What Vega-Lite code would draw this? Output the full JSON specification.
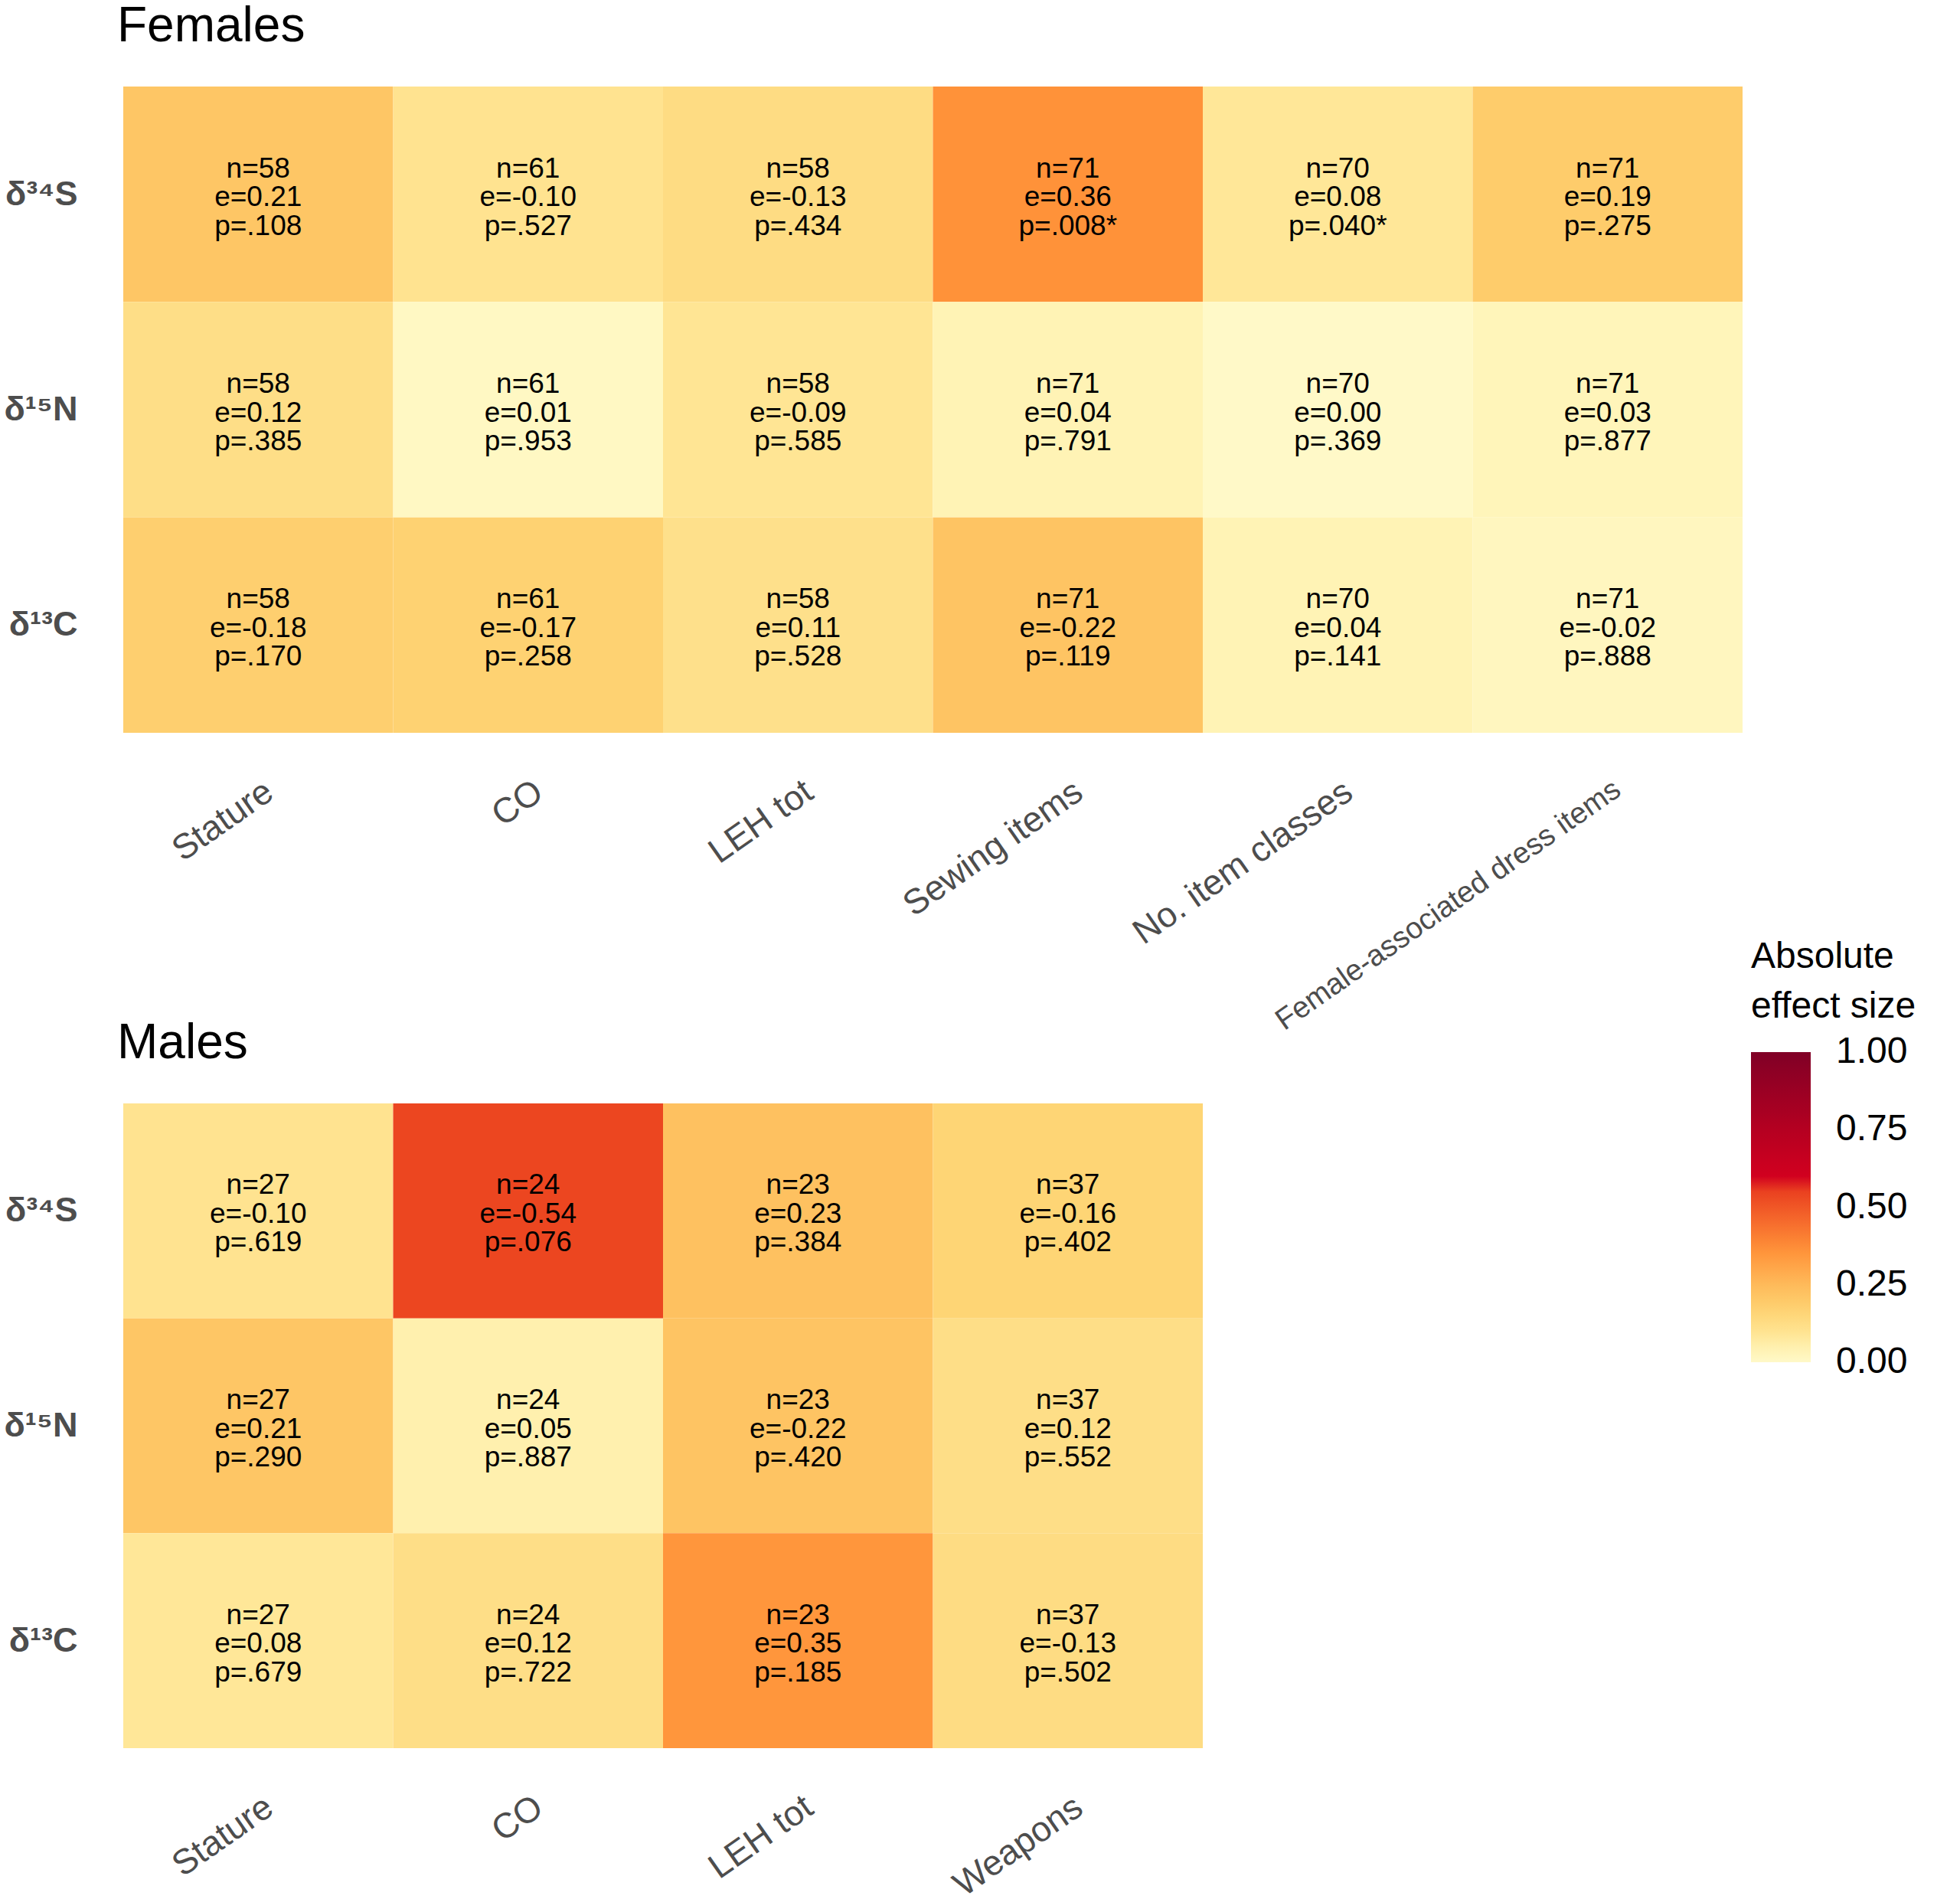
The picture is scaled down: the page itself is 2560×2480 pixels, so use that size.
{
  "$schema": "https://vega.github.io/schema/vega-lite/v6.json",
  "autosize": {"type": "pad"},
  "padding": {"left": 5, "top": 3, "right": 5, "bottom": 5},
  "bounds": "flush",
  "spacing": 484,
  "datasets": {
    "females": [
      {"var": "Stature", "iso": "δ³⁴S", "n": 58, "e": 0.21, "p": 0.108},
      {"var": "Stature", "iso": "δ¹⁵N", "n": 58, "e": 0.12, "p": 0.385},
      {"var": "Stature", "iso": "δ¹³C", "n": 58, "e": -0.18, "p": 0.170},
      {"var": "CO", "iso": "δ³⁴S", "n": 61, "e": -0.10, "p": 0.527},
      {"var": "CO", "iso": "δ¹⁵N", "n": 61, "e": 0.01, "p": 0.953},
      {"var": "CO", "iso": "δ¹³C", "n": 61, "e": -0.17, "p": 0.258},
      {"var": "LEH tot", "iso": "δ³⁴S", "n": 58, "e": -0.13, "p": 0.434},
      {"var": "LEH tot", "iso": "δ¹⁵N", "n": 58, "e": -0.09, "p": 0.585},
      {"var": "LEH tot", "iso": "δ¹³C", "n": 58, "e": 0.11, "p": 0.528},
      {"var": "Sewing items", "iso": "δ³⁴S", "n": 71, "e": 0.36, "p": 0.008},
      {"var": "Sewing items", "iso": "δ¹⁵N", "n": 71, "e": 0.04, "p": 0.791},
      {"var": "Sewing items", "iso": "δ¹³C", "n": 71, "e": -0.22, "p": 0.119},
      {"var": "No. item classes", "iso": "δ³⁴S", "n": 70, "e": 0.08, "p": 0.040},
      {"var": "No. item classes", "iso": "δ¹⁵N", "n": 70, "e": 0.00, "p": 0.369},
      {"var": "No. item classes", "iso": "δ¹³C", "n": 70, "e": 0.04, "p": 0.141},
      {"var": "Female-associated dress items", "iso": "δ³⁴S", "n": 71, "e": 0.19, "p": 0.275},
      {"var": "Female-associated dress items", "iso": "δ¹⁵N", "n": 71, "e": 0.03, "p": 0.877},
      {"var": "Female-associated dress items", "iso": "δ¹³C", "n": 71, "e": -0.02, "p": 0.888}
    ],
    "males": [
      {"var": "Stature", "iso": "δ³⁴S", "n": 27, "e": -0.10, "p": 0.619},
      {"var": "Stature", "iso": "δ¹⁵N", "n": 27, "e": 0.21, "p": 0.290},
      {"var": "Stature", "iso": "δ¹³C", "n": 27, "e": 0.08, "p": 0.679},
      {"var": "CO", "iso": "δ³⁴S", "n": 24, "e": -0.54, "p": 0.076},
      {"var": "CO", "iso": "δ¹⁵N", "n": 24, "e": 0.05, "p": 0.887},
      {"var": "CO", "iso": "δ¹³C", "n": 24, "e": 0.12, "p": 0.722},
      {"var": "LEH tot", "iso": "δ³⁴S", "n": 23, "e": 0.23, "p": 0.384},
      {"var": "LEH tot", "iso": "δ¹⁵N", "n": 23, "e": -0.22, "p": 0.420},
      {"var": "LEH tot", "iso": "δ¹³C", "n": 23, "e": 0.35, "p": 0.185},
      {"var": "Weapons", "iso": "δ³⁴S", "n": 37, "e": -0.16, "p": 0.402},
      {"var": "Weapons", "iso": "δ¹⁵N", "n": 37, "e": 0.12, "p": 0.552},
      {"var": "Weapons", "iso": "δ¹³C", "n": 37, "e": -0.13, "p": 0.502}
    ]
  },
  "vconcat": [
    {
      "title": {"text": "Females"},
      "width": 2115,
      "height": 844,
      "data": {"name": "females"},
      "transform": [
        {"calculate": "abs(datum.e)", "as": "abs_e"},
        {"calculate": "'n=' + datum.n + '\\ne=' + (datum.e < 0 ? '-' : '') + format(abs(datum.e), '.2f') + '\\np=' + substring(format(datum.p, '.3f'), 1) + (datum.p < 0.05 ? '*' : '')", "as": "label"}
      ],
      "encoding": {
        "x": {
          "field": "var", "type": "nominal", "sort": null,
          "scale": {"paddingInner": 0, "paddingOuter": 0},
          "axis": {
            "title": null,
            "labelFontSize": {"condition": {"test": "datum.value === 'Female-associated dress items'", "value": 39}, "value": 46}
          }
        },
        "y": {
          "field": "iso", "type": "nominal",
          "sort": ["δ³⁴S", "δ¹⁵N", "δ¹³C"],
          "scale": {"paddingInner": 0, "paddingOuter": 0},
          "axis": {"title": null}
        }
      },
      "layer": [
        {
          "mark": {"type": "rect"},
          "encoding": {
            "color": {
              "field": "abs_e", "type": "quantitative",
              "scale": {
                "domain": [0, 0.04, 0.08, 0.12, 0.16, 0.2, 0.23, 0.36, 0.54, 0.575, 0.58, 0.75, 1],
                "range": ["#FFF9C8", "#FFF3B5", "#FFE798", "#FEDE87", "#FED575", "#FEC968", "#FEC160", "#FF9239", "#EC4620", "#E5361F", "#D5001F", "#B50021", "#800026"],
                "interpolate": "rgb"
              },
              "legend": {
                "title": ["Absolute", "effect size"],
                "orient": "none", "legendX": 2126, "legendY": 1113,
                "values": [0, 0.25, 0.5, 0.75, 1], "format": ".2f",
                "labelOffset": 33, "labelLimit": 0, "titleLimit": 0,
                "encode": {"labels": {"update": {"baseline": {"value": "middle"}}}}
              }
            }
          }
        },
        {
          "mark": {"type": "text", "fontSize": 37, "lineHeight": 37.5, "lineBreak": "\n", "color": "black", "baseline": "middle", "dy": -33},
          "encoding": {"text": {"field": "label", "type": "nominal"}}
        }
      ]
    },
    {
      "title": {"text": "Males"},
      "width": 1410,
      "height": 842,
      "data": {"name": "males"},
      "transform": [
        {"calculate": "abs(datum.e)", "as": "abs_e"},
        {"calculate": "'n=' + datum.n + '\\ne=' + (datum.e < 0 ? '-' : '') + format(abs(datum.e), '.2f') + '\\np=' + substring(format(datum.p, '.3f'), 1) + (datum.p < 0.05 ? '*' : '')", "as": "label"}
      ],
      "encoding": {
        "x": {
          "field": "var", "type": "nominal", "sort": null,
          "scale": {"paddingInner": 0, "paddingOuter": 0},
          "axis": {"title": null, "labelFontSize": 46}
        },
        "y": {
          "field": "iso", "type": "nominal",
          "sort": ["δ³⁴S", "δ¹⁵N", "δ¹³C"],
          "scale": {"paddingInner": 0, "paddingOuter": 0},
          "axis": {"title": null}
        }
      },
      "layer": [
        {
          "mark": {"type": "rect"},
          "encoding": {
            "color": {
              "field": "abs_e", "type": "quantitative",
              "scale": {
                "domain": [0, 0.04, 0.08, 0.12, 0.16, 0.2, 0.23, 0.36, 0.54, 0.575, 0.58, 0.75, 1],
                "range": ["#FFF9C8", "#FFF3B5", "#FFE798", "#FEDE87", "#FED575", "#FEC968", "#FEC160", "#FF9239", "#EC4620", "#E5361F", "#D5001F", "#B50021", "#800026"],
                "interpolate": "rgb"
              },
              "legend": {
                "title": ["Absolute", "effect size"],
                "orient": "none", "legendX": 2126, "legendY": 1113,
                "values": [0, 0.25, 0.5, 0.75, 1], "format": ".2f",
                "labelOffset": 33, "labelLimit": 0, "titleLimit": 0,
                "encode": {"labels": {"update": {"baseline": {"value": "middle"}}}}
              }
            }
          }
        },
        {
          "mark": {"type": "text", "fontSize": 37, "lineHeight": 37.5, "lineBreak": "\n", "color": "black", "baseline": "middle", "dy": -33},
          "encoding": {"text": {"field": "label", "type": "nominal"}}
        }
      ]
    }
  ],
  "resolve": {"scale": {"color": "shared"}},
  "config": {
    "font": "Liberation Sans",
    "view": {"stroke": null},
    "title": {"fontSize": 64, "fontWeight": "normal", "anchor": "start", "frame": "group", "color": "black", "offset": 46, "dx": -8},
    "axis": {"domain": false, "ticks": false, "grid": false, "labelColor": "#4D4D4D"},
    "axisX": {"labelAngle": -35, "labelAlign": "right", "labelBaseline": "top", "labelPadding": 54, "labelOffset": 2, "labelLimit": 0},
    "axisY": {"labelFontSize": 45, "labelFontWeight": "bold", "labelPadding": 60},
    "legend": {
      "direction": "vertical",
      "gradientLength": 405,
      "gradientThickness": 78,
      "gradientStrokeWidth": 0,
      "titleFontSize": 48,
      "titleFontWeight": "normal",
      "titleColor": "black",
      "titleLineHeight": 65,
      "titlePadding": 35,
      "labelFontSize": 48,
      "labelColor": "black"
    }
  }
}
